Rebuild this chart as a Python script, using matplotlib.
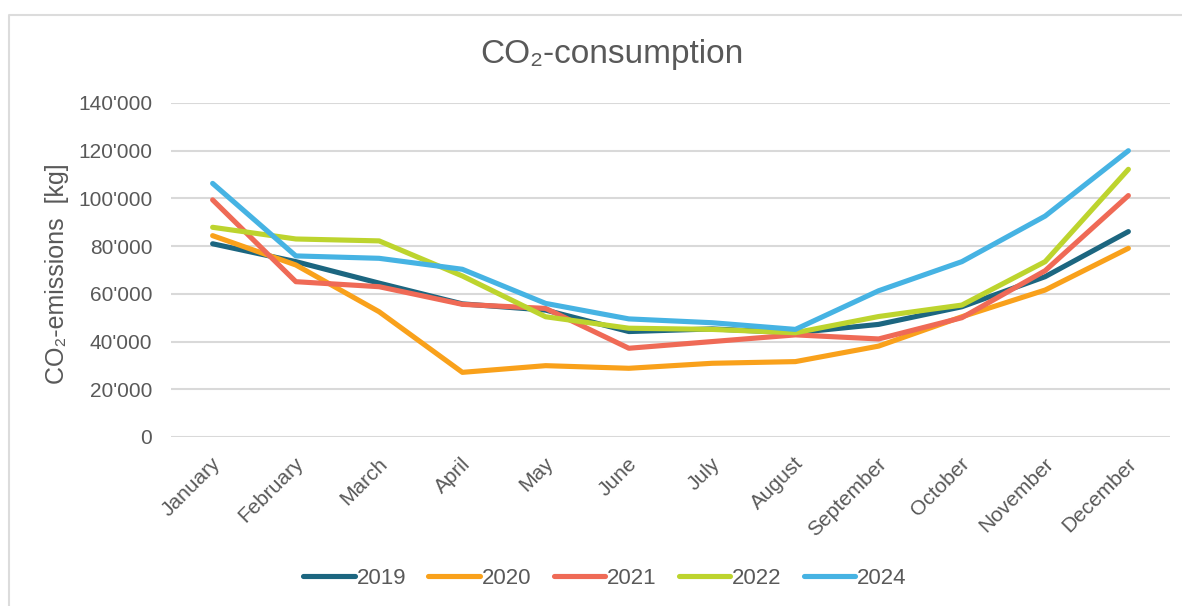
import numpy as np
import matplotlib
matplotlib.use("Agg")
import matplotlib.pyplot as plt
from matplotlib.lines import Line2D
from matplotlib.ticker import FuncFormatter
from matplotlib.transforms import ScaledTranslation

plt.rcParams['font.family'] = ['Liberation Sans', 'DejaVu Sans']

# data
months = ['January', 'February', 'March', 'April', 'May', 'June', 'July',
          'August', 'September', 'October', 'November', 'December']
y2019 = [81000, 73500, 64500, 55800, 53200, 44200, 45300, 43700, 47200, 54600, 67200, 86100]
y2020 = [84400, 72100, 52500, 27100, 29900, 28800, 30900, 31600, 38100, 50400, 61600, 79100]
y2021 = [99400, 65100, 63000, 55600, 53900, 37200, 40000, 42800, 41100, 50000, 69700, 101200]
y2022 = [87900, 83000, 82200, 67500, 50400, 45600, 45100, 43700, 50500, 55300, 73500, 112200]
y2024 = [106300, 75900, 74900, 70300, 56000, 49500, 47900, 45100, 61300, 73500, 92600, 120000]

series = [('2019', y2019, '#1c6680'),
          ('2020', y2020, '#f9a11b'),
          ('2021', y2021, '#ef6a56'),
          ('2022', y2022, '#bdd42e'),
          ('2024', y2024, '#46b3e3')]

txt = '#595959'
W, H = 1182, 606
fig = plt.figure(figsize=(W / 100, H / 100), dpi=100)
ax = fig.add_axes([171 / W, 1 - 437 / H, (1170 - 171) / W, (437 - 103) / H])

x = np.arange(len(months))
for name, vals, col in series:
    ax.plot(x, vals, color=col, lw=3.7, label=name,
            solid_capstyle='round', solid_joinstyle='round')

ax.set_xlim(-0.5, len(months) - 0.5)
ax.set_ylim(0, 140000)
ax.set_yticks(np.arange(0, 140001, 20000))
ax.yaxis.set_major_formatter(FuncFormatter(lambda v, p: f"{int(v):,}".replace(',', "'")))
ax.grid(axis='y', color='#d9d9d9', lw=1.5)
ax.set_axisbelow(True)
for s in ax.spines.values():
    s.set_visible(False)
ax.tick_params(length=0, labelsize=15, colors=txt)
ax.tick_params(axis='y', pad=13.5)

ax.set_xticks(x)
ax.set_xticklabels(months, rotation=45, ha='right', va='center', rotation_mode='anchor')
ax.tick_params(axis='x', pad=17)
for lbl in ax.get_xticklabels():
    lbl.set_transform(lbl.get_transform() + ScaledTranslation(0.05, 0, fig.dpi_scale_trans))

fig.text(612 / W, 1 - 55 / H, 'CO₂-consumption', ha='center', va='center',
         fontsize=24, color=txt)
fig.text(57 / W, 1 - 274 / H, 'CO₂-emissions  [kg]', ha='center', va='center',
         rotation=90, fontsize=18, color=txt)

leg = fig.legend(loc='center', bbox_to_anchor=(605 / W, 1 - 578 / H), ncol=5,
                 frameon=False, fontsize=16, handlelength=2.3, handletextpad=0.1,
                 columnspacing=1.0, labelcolor=txt)

# chart area border (top and left edges visible)
fig.add_artist(Line2D([9 / W, 9 / W, 1], [0, 1 - 15 / H, 1 - 15 / H],
                      transform=fig.transFigure, color='#dcdcdc', lw=1.5))

fig.savefig('out.png', dpi=100)
